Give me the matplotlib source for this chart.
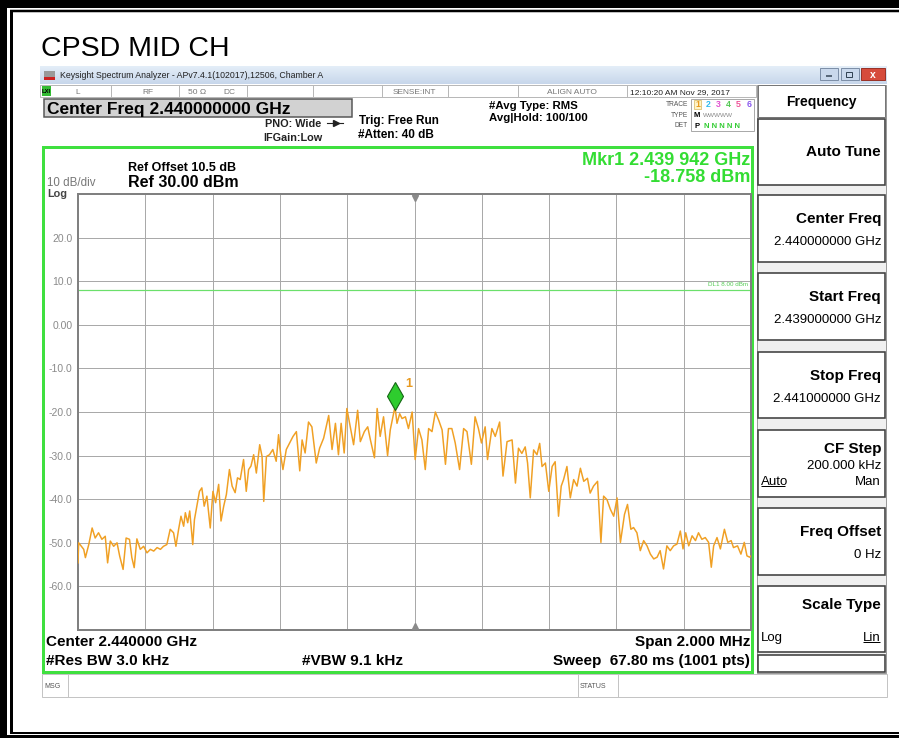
import matplotlib
matplotlib.use("Agg")
import matplotlib.pyplot as plt
from matplotlib.patches import Rectangle
import matplotlib.transforms as mtransforms

plt.rcParams['font.family'] = ['Liberation Sans', 'DejaVu Sans']

# ---------------- data ----------------
freq_khz_low = [
    -1000, -998, -983, -978, -968, -958, -949, -939, -929, -919,
    -912, -904, -894, -884, -876, -866, -857, -847, -840, -833,
    -825, -815, -805, -795, -785, -775, -765, -755, -746, -736,
    -726, -716, -709, -701, -694, -686, -681, -674, -668, -659,
    -654, -646, -639, -632, -625, -617, -607, -599, -591, -582,
    -575, -567, -559, -550, -542, -533, -526, -518, -508, -500,
    -493, -486, -478, -470, -460, -453, -448, -440, -431, -421,
    -411, -404, -397, -391, -381, -371]
level_dbm_low = [
    -54.6, -50.0, -51.5, -53.4, -50.4, -46.6, -48.9, -47.7, -49.2, -48.5,
    -54.6, -49.6, -50.8, -50.0, -53.1, -56.1, -48.9, -49.2, -53.4, -55.7,
    -49.1, -51.5, -50.8, -52.3, -51.5, -51.9, -51.1, -51.5, -50.8, -50.4,
    -46.9, -47.7, -50.8, -46.9, -43.9, -46.2, -43.1, -45.4, -42.7, -50.4,
    -44.7, -41.2, -38.2, -37.4, -41.6, -39.3, -46.6, -38.2, -40.8, -36.6,
    -45.0, -41.6, -38.9, -33.2, -37.0, -38.5, -35.1, -35.5, -30.9, -38.2,
    -33.2, -32.4, -29.8, -34.0, -27.5, -30.2, -40.5, -30.2, -29.8, -28.6,
    -31.3, -25.2, -30.2, -33.2, -28.6, -27.1]
freq_khz_mid = [
    -361, -351, -341, -334, -325, -315, -305, -292, -282, -270,
    -255, -245, -235, -226, -218, -209, -201, -191, -181, -169,
    -161, -149, -139, -131, -119, -111, -102, -92, -80, -72,
    -58, -52, -44, -37, -27, -18, -7, 2, 12, 22,
    32, 42, 52, 62, 72, 82, 92, 101, 111, 121,
    134, 146, 156, 169, 180, 190, 199, 210, 217, 230,
    240, 253, 263]
level_dbm_mid = [
    -25.6, -24.5, -33.5, -26.4, -29.4, -22.3, -23.4, -31.7, -28.3, -26.0,
    -20.8, -28.6, -22.6, -29.8, -22.6, -29.4, -19.2, -23.4, -27.5, -19.6,
    -26.8, -24.5, -23.4, -26.4, -30.5, -19.2, -25.6, -21.1, -30.0, -24.1,
    -18.758, -22.6, -20.4, -21.5, -21.1, -23.8, -20.0, -30.9, -23.8, -26.4,
    -33.2, -23.8, -24.5, -20.0, -21.9, -24.1, -32.0, -23.8, -23.8, -27.1,
    -33.2, -23.8, -24.5, -32.0, -21.1, -23.8, -27.1, -23.4, -30.9, -23.8,
    -25.6, -22.3, -34.7]
freq_khz_high = [
    275, 290, 300, 309, 319, 329, 336, 344, 354, 364,
    372, 379, 389, 399, 409, 418, 428, 436, 443, 453,
    463, 473, 483, 493, 503, 514, 522, 532, 544, 554,
    562, 572, 582, 592, 602, 612, 624, 633, 643, 651,
    661, 671, 681, 691, 701, 711, 721, 730, 740, 750,
    760, 770, 780, 790, 798, 806, 815, 825, 835, 844,
    854, 864, 874, 882, 889, 899, 909, 921, 931, 941,
    948, 960, 970, 980, 988, 996, 1000]
level_dbm_high = [
    -26.8, -26.4, -36.3, -28.3, -29.5, -28.0, -31.7, -39.7, -28.7, -29.8,
    -27.2, -32.5, -31.7, -38.2, -32.5, -31.4, -43.9, -37.0, -35.5, -32.5,
    -39.7, -35.5, -37.0, -32.9, -35.9, -35.2, -38.6, -37.0, -35.9, -49.9,
    -39.3, -40.1, -42.3, -43.9, -39.7, -49.9, -43.5, -41.2, -46.9, -46.5,
    -47.7, -51.8, -49.5, -50.7, -52.6, -53.7, -53.3, -51.8, -56.0, -50.7,
    -51.8, -50.7, -50.3, -47.3, -51.4, -47.7, -50.7, -48.4, -49.5, -47.7,
    -49.2, -48.8, -49.9, -55.6, -50.7, -48.8, -51.4, -46.9, -49.9, -49.5,
    -51.1, -50.7, -52.6, -49.9, -53.0, -53.3, -53.0]

span_khz = [-1000, 1000]
ref_level = 30.0
db_per_div = 10.0
n_div = 10
y_tick_values = [30, 20, 10, 0, -10, -20, -30, -40, -50, -60, -70]
y_tick_labels = ['', '20.0', '10.0', '0.00', '-10.0', '-20.0', '-30.0',
                 '-40.0', '-50.0', '-60.0', '']
x_grid_khz = [-1000, -800, -600, -400, -200, 0, 200, 400, 600, 800, 1000]
dl1_level = 8.0
mkr_freq_khz = -58
mkr_level = -18.758

right_panel = [
    ('Auto Tune', None, None),
    ('Center Freq', '2.440000000 GHz', None),
    ('Start Freq', '2.439000000 GHz', None),
    ('Stop Freq', '2.441000000 GHz', None),
    ('CF Step', '200.000 kHz', ('Auto', 'Man')),
    ('Freq Offset', '0 Hz', None),
    ('Scale Type', None, ('Log', 'Lin')),
]

freq = freq_khz_low + freq_khz_mid + freq_khz_high
level = level_dbm_low + level_dbm_mid + level_dbm_high

# ---------------- figure ----------------
W, H = 899, 738
PX = 0.72
fig = plt.figure(figsize=(W / 100, H / 100), dpi=100)
fig.patch.set_facecolor('white')
bg = fig.add_axes([0, 0, 1, 1])
bg.set_xlim(0, W)
bg.set_ylim(H, 0)
bg.axis('off')


def rect(x0, y0, x1, y1, fc='none', ec='none', lw=1.0, z=1):
    bg.add_patch(Rectangle((x0, y0), x1 - x0, y1 - y0, facecolor=fc,
                           edgecolor=ec, linewidth=lw * PX, zorder=z))


def txt(x, yc, s, pt, color='black', weight='normal', ha='left', z=5, **kw):
    base = yc + 0.497 * pt
    bg.text(x, base, s, fontsize=pt, color=color, fontweight=weight,
            ha=ha, va='baseline', zorder=z, **kw)


def hline(y, x0, x1, color, lw=1.0, z=2):
    bg.plot([x0, x1], [y, y], color=color, lw=lw * PX, zorder=z,
            solid_capstyle='butt')


def vline(x, y0, y1, color, lw=1.0, z=2):
    bg.plot([x, x], [y0, y1], color=color, lw=lw * PX, zorder=z,
            solid_capstyle='butt')


# outer frame
rect(0, 0, W, 8, fc='black')
rect(0, 0, 7, H, fc='black')
rect(0, 735, W, H, fc='black')
hline(11, 10, W, 'black', 2.5)
vline(11, 10, 733, 'black', 3)
hline(732.5, 10, W, 'black', 2)

# title
txt(41, 46, 'CPSD MID CH', 20.5)

# window title bar
top_c = (0.89, 0.93, 0.97)
bot_c = (0.78, 0.84, 0.92)
for i in range(18):
    t = i / 17
    c = tuple(top_c[k] * (1 - t) + bot_c[k] * t for k in range(3))
    rect(40, 66 + i, 887, 67 + i, fc=c, z=1)
rect(44, 71, 55, 77, fc='#9a9a9a', z=2)
rect(44, 77, 55, 80, fc='#cc2222', z=2)
txt(60, 74.5, 'Keysight Spectrum Analyzer - APv7.4.1(102017),12506, Chamber A',
    6.3, color='#222222')
rect(820, 68, 838, 80, fc='#c9d8ec', ec='#7d8fa8', z=2)
hline(76, 826, 832, '#334455', 1.5, z=3)
rect(841, 68, 859, 80, fc='#c9d8ec', ec='#7d8fa8', z=2)
rect(846, 72, 852, 77, fc='none', ec='#334455', lw=1, z=3)
rect(861, 68, 885, 80, fc='#d64b3c', ec='#9a3328', z=2)
txt(873, 74, 'x', 7.5, color='white', weight='bold', ha='center')

# status row
rect(40, 85, 756, 97, fc='white', ec='#b8b8b8', z=1)
for xs in [111, 179, 247, 313, 382, 448, 518, 627]:
    vline(xs, 85, 97, '#b8b8b8')
rect(42, 86, 51, 96, fc='#33bb33', z=2)
txt(46.5, 91, 'LXI', 4.2, weight='bold', ha='center')
txt(78, 91, 'L', 6, color='#777777', ha='center')
txt(148, 91, 'RF', 6, color='#777777', ha='center')
txt(188, 91, '50 Ω', 6, color='#777777')
txt(223, 91, 'DC', 6, color='#777777')
txt(393, 91, 'SENSE:INT', 6, color='#777777')
txt(547, 91, 'ALIGN AUTO', 6, color='#777777')
txt(630, 91, '12:10:20 AM Nov 29, 2017', 6, color='#222222')

# center freq box
rect(44, 99, 352, 117, fc='#d2d2d2', ec='#555555', lw=1.5, z=2)
txt(47, 108, 'Center Freq 2.440000000 GHz', 12.5, weight='bold')
txt(265, 123, 'PNO: Wide', 7.8, weight='bold', color='#222222')
bg.plot([327, 343], [122.5, 122.5], color='#222222', lw=0.8, zorder=3)
bg.plot([336], [122.5], marker='>', ms=4, color='#222222', zorder=3)
txt(263, 137, 'IFGain:Low', 7.8, weight='bold', color='#222222')
txt(359, 120, 'Trig: Free Run', 8.5, weight='bold')
txt(358, 134, '#Atten: 40 dB', 8.5, weight='bold')
txt(489, 105, '#Avg Type: RMS', 8.2, weight='bold')
txt(489, 117, 'Avg|Hold: 100/100', 8.2, weight='bold')

# trace info box
txt(688, 104, 'TRACE', 4.8, color='#555555', ha='right')
txt(688, 114.5, 'TYPE', 4.8, color='#555555', ha='right')
txt(688, 125, 'DET', 4.8, color='#555555', ha='right')
rect(691, 99, 754, 131, fc='white', ec='#aaaaaa', z=1)
rect(694, 99.5, 701, 108.5, fc='#fff4c8', ec='#d8b860', lw=0.7, z=2)
trace_cols = ['#e89a20', '#33bbee', '#e050d0', '#55c855', '#ee5599', '#8855ee']
for i, c in enumerate(trace_cols):
    txt(697.5 + i * 10.3, 104, str(i + 1), 6.3, color=c, weight='bold', ha='center')
txt(694, 114.5, 'M', 5.5, weight='bold')
txt(703, 114.5, 'WWWWW', 4.6, color='#888888')
txt(694.5, 125, 'P', 5.5, weight='bold')
txt(704, 125, 'N N N N N', 5.5, color='#33cc33', weight='bold')

# green panel frame
rect(43, 147, 752, 672, fc='white', ec='#3fe03f', lw=3, z=1.5)
txt(128, 167, 'Ref Offset 10.5 dB', 9, weight='bold')
txt(128, 181, 'Ref 30.00 dBm', 11.5, weight='bold')
txt(47, 182, '10 dB/div', 8.3, color='#777777')
txt(47, 193, 'Log', 7.8, color='#444444', weight='bold')
txt(750, 159, 'Mkr1 2.439 942 GHz', 13, color='#33dd33', weight='bold', ha='right')
txt(750, 176, '-18.758 dBm', 13, color='#33dd33', weight='bold', ha='right')

txt(46, 641, 'Center 2.440000 GHz', 11, weight='bold')
txt(46, 660, '#Res BW 3.0 kHz', 11, weight='bold')
txt(302, 660, '#VBW 9.1 kHz', 11, weight='bold')
txt(750, 641, 'Span 2.000 MHz', 11, weight='bold', ha='right')
txt(750, 660, 'Sweep  67.80 ms (1001 pts)', 11, weight='bold', ha='right')

# message bar
rect(42, 674, 887, 697, fc='white', ec='#c4c4c4', z=1)
vline(68, 674, 697, '#c4c4c4')
vline(578, 674, 697, '#c4c4c4')
vline(618, 674, 697, '#c4c4c4')
txt(44, 685.5, 'MSG', 5, color='#555555')
txt(580, 685.5, 'STATUS', 5, color='#555555')

# right soft-key panel
rect(757, 85, 886, 673, fc='#f0f0f0', ec='#9a9a9a', z=1)
rect(758, 85, 885, 117, fc='white', ec='#777777', lw=1, z=2)
txt(821.5, 101, 'Frequency', 10, weight='bold', ha='center')
box_tops = [119, 195, 273, 352, 430, 508, 586]
box_bots = [185, 262, 340, 418, 497, 575, 652]
for (title, value, opts), yt, yb in zip(right_panel, box_tops, box_bots):
    rect(758, yt, 885, yb, fc='white', ec='#404040', lw=1.6, z=2)
    if value is None and opts is None:
        txt(881, (yt + yb) / 2 - 1, title, 11, weight='bold', ha='right')
        continue
    if opts is None:
        txt(881, yt + 23, title, 11, weight='bold', ha='right')
        txt(881, yt + 45, value, 9.5, ha='right')
    else:
        txt(881, yt + 17.5, title, 11, weight='bold', ha='right')
        if value is not None:
            txt(881, yt + 34, value, 9.5, ha='right')
        yo = yt + 50
        txt(761, yo, opts[0], 9.5)
        txt(881, yo, opts[1], 9.5, ha='right')
        if opts[0] == 'Auto':
            hline(yo + 6, 761, 785, 'black', 1, z=6)
        else:
            hline(yo + 6, 863, 880, 'black', 1, z=6)
rect(758, 655, 885, 672, fc='white', ec='#404040', lw=1.6, z=2)

# ---------------- spectrum plot ----------------
x0p, x1p, y0p, y1p = 78, 751, 194, 630
ax = fig.add_axes([x0p / W, 1 - y1p / H, (x1p - x0p) / W, (y1p - y0p) / H])
ax.set_zorder(3)
ax.set_facecolor('white')
ax.set_xlim(span_khz)
ax.set_ylim(ref_level - n_div * db_per_div, ref_level)
ax.set_xticks(x_grid_khz)
ax.set_xticklabels([])
ax.set_yticks(y_tick_values)
ax.set_yticklabels(y_tick_labels)
ax.tick_params(axis='both', length=0)
ax.tick_params(axis='y', pad=4, labelsize=7.5, labelcolor='#8a8a8a')
ax.grid(True, color='#a9a9a9', lw=1 * PX)
for sp in ax.spines.values():
    sp.set_color('#808080')
    sp.set_linewidth(2 * PX)

ax.axhline(dl1_level, color='#6be06b', lw=1.2 * PX, zorder=2)
ax.text(990, dl1_level + 0.6, 'DL1 8.00 dBm', fontsize=4.5, color='#55cc55',
        ha='right', va='bottom')

ax.plot(freq, level, color='#f0a024', lw=1.5 * PX, zorder=3)

ax.plot([0], [29.1], marker='v', ms=4.5, color='#8a8a8a', clip_on=False, zorder=4)
ax.plot([0], [-69.1], marker='^', ms=4.5, color='#8a8a8a', clip_on=False, zorder=4)

off = mtransforms.offset_copy(ax.transData, fig=fig, x=0, y=11, units='dots')
ax.plot([mkr_freq_khz], [mkr_level], marker='d', ms=14, mfc='#2ecc2e',
        mec='#146614', mew=0.8, transform=off, zorder=5)
off_lbl = mtransforms.offset_copy(ax.transData, fig=fig, x=10, y=23, units='dots')
ax.text(mkr_freq_khz, mkr_level, '1', fontsize=9, color='#e89a20',
        fontweight='bold', transform=off_lbl, ha='left', va='center', zorder=5)

fig.savefig('out.png', dpi=100, facecolor='white')
